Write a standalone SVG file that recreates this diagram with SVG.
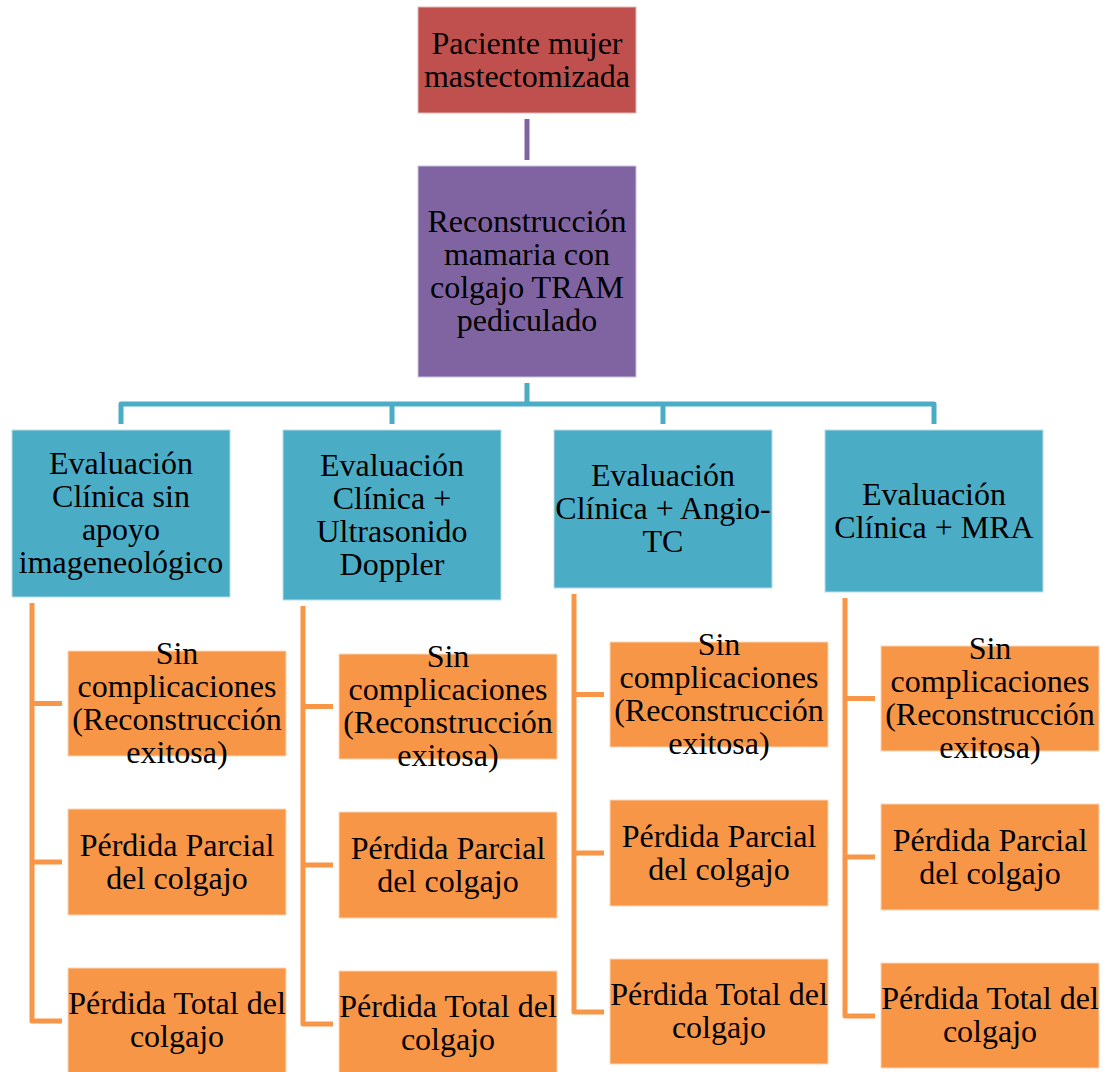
<svg xmlns="http://www.w3.org/2000/svg" width="1106" height="1072" viewBox="0 0 1106 1072">
<style>
.t{font-family:"Liberation Serif","Times New Roman",serif;font-size:32px;fill:#000;text-anchor:middle}
.red{fill:#C0504D;stroke:#E6B9B8;stroke-width:1}
.pur{fill:#8064A2;stroke:#CCC1DA;stroke-width:1}
.blu{fill:#4BACC6;stroke:#B7DEE8;stroke-width:1}
.org{fill:#F79646;stroke:#FCD5B5;stroke-width:1}
.cp{fill:none;stroke:#8064A2;stroke-width:5}
.cb{fill:none;stroke:#4BACC6;stroke-width:5;stroke-linejoin:round}
.co{fill:none;stroke:#F79646;stroke-width:5;stroke-linejoin:round}
</style>
<rect width="1106" height="1072" fill="#fff"/>
<g id="connectors">
<path class="cp" d="M527,119 V160"/>
<path class="cb" d="M527,383 V404 M121,424 V404 H934 V424 M392,404 V424 M663,404 V424"/>
<path class="co" d="M32,603 V1021 H62 M32,703.5 H62 M32,862 H62"/>
<path class="co" d="M303,606 V1024 H333 M303,706.5 H333 M303,865 H333"/>
<path class="co" d="M574,594 V1012 H604 M574,694.5 H604 M574,853 H604"/>
<path class="co" d="M845,598 V1016 H875 M845,698.5 H875 M845,857 H875"/>
</g>
<g id="n_paciente"><rect class="red" x="418" y="7" width="218" height="106"/>
<text class="t" x="527" y="53.5">Paciente mujer</text><text class="t" x="527" y="86.5">mastectomizada</text></g>
<g id="n_reconstruccion"><rect class="pur" x="418" y="166" width="218" height="211"/>
<text class="t" x="527" y="232">Reconstrucción</text><text class="t" x="527" y="265">mamaria con</text><text class="t" x="527" y="298">colgajo TRAM</text><text class="t" x="527" y="331">pediculado</text></g>
<g id="n_eval1"><rect class="blu" x="12" y="430" width="218" height="167"/>
<text class="t" x="121" y="474">Evaluación</text><text class="t" x="121" y="507">Clínica sin</text><text class="t" x="121" y="540">apoyo</text><text class="t" x="121" y="573">imageneológico</text></g>
<g id="n_eval2"><rect class="blu" x="283" y="430" width="218" height="170"/>
<text class="t" x="392" y="475.5">Evaluación</text><text class="t" x="392" y="508.5">Clínica +</text><text class="t" x="392" y="541.5">Ultrasonido</text><text class="t" x="392" y="574.5">Doppler</text></g>
<g id="n_eval3"><rect class="blu" x="554" y="430" width="218" height="158"/>
<text class="t" x="663" y="486">Evaluación</text><text class="t" x="663" y="519">Clínica + Angio-</text><text class="t" x="663" y="552">TC</text></g>
<g id="n_eval4"><rect class="blu" x="825" y="430" width="218" height="162"/>
<text class="t" x="934" y="504.5">Evaluación</text><text class="t" x="934" y="537.5">Clínica + MRA</text></g>
<g id="n_c1_sin"><rect class="org" x="68" y="651" width="218" height="105"/>
<text class="t" x="177" y="664">Sin</text><text class="t" x="177" y="697">complicaciones</text><text class="t" x="177" y="730">(Reconstrucción</text><text class="t" x="177" y="763">exitosa)</text></g>
<g id="n_c1_parcial"><rect class="org" x="68" y="809" width="218" height="106"/>
<text class="t" x="177" y="855.5">Pérdida Parcial</text><text class="t" x="177" y="888.5">del colgajo</text></g>
<g id="n_c1_total"><rect class="org" x="68" y="968" width="218" height="105"/>
<text class="t" x="177" y="1014">Pérdida Total del</text><text class="t" x="177" y="1047">colgajo</text></g>
<g id="n_c2_sin"><rect class="org" x="339" y="654" width="218" height="105"/>
<text class="t" x="448" y="667">Sin</text><text class="t" x="448" y="700">complicaciones</text><text class="t" x="448" y="733">(Reconstrucción</text><text class="t" x="448" y="766">exitosa)</text></g>
<g id="n_c2_parcial"><rect class="org" x="339" y="812" width="218" height="106"/>
<text class="t" x="448" y="858.5">Pérdida Parcial</text><text class="t" x="448" y="891.5">del colgajo</text></g>
<g id="n_c2_total"><rect class="org" x="339" y="971" width="218" height="105"/>
<text class="t" x="448" y="1017">Pérdida Total del</text><text class="t" x="448" y="1050">colgajo</text></g>
<g id="n_c3_sin"><rect class="org" x="610" y="642" width="218" height="105"/>
<text class="t" x="719" y="655">Sin</text><text class="t" x="719" y="688">complicaciones</text><text class="t" x="719" y="721">(Reconstrucción</text><text class="t" x="719" y="754">exitosa)</text></g>
<g id="n_c3_parcial"><rect class="org" x="610" y="800" width="218" height="106"/>
<text class="t" x="719" y="846.5">Pérdida Parcial</text><text class="t" x="719" y="879.5">del colgajo</text></g>
<g id="n_c3_total"><rect class="org" x="610" y="959" width="218" height="105"/>
<text class="t" x="719" y="1005">Pérdida Total del</text><text class="t" x="719" y="1038">colgajo</text></g>
<g id="n_c4_sin"><rect class="org" x="881" y="646" width="218" height="105"/>
<text class="t" x="990" y="659">Sin</text><text class="t" x="990" y="692">complicaciones</text><text class="t" x="990" y="725">(Reconstrucción</text><text class="t" x="990" y="758">exitosa)</text></g>
<g id="n_c4_parcial"><rect class="org" x="881" y="804" width="218" height="106"/>
<text class="t" x="990" y="850.5">Pérdida Parcial</text><text class="t" x="990" y="883.5">del colgajo</text></g>
<g id="n_c4_total"><rect class="org" x="881" y="963" width="218" height="105"/>
<text class="t" x="990" y="1009">Pérdida Total del</text><text class="t" x="990" y="1042">colgajo</text></g>
</svg>
